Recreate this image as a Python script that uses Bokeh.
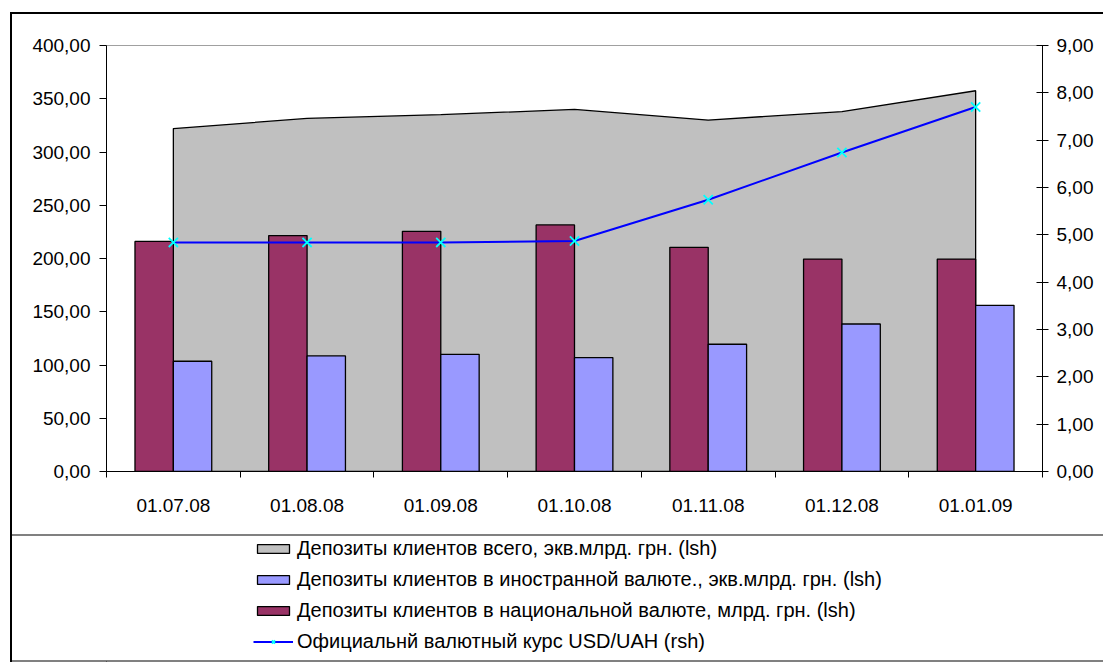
import numpy as np
from bokeh.plotting import figure
from bokeh.layouts import column
from bokeh.models import (Range1d, LinearAxis, FixedTicker, Legend, LegendItem,
                          ColumnDataSource)
from bokeh.embed import file_html
from bokeh.resources import INLINE

# ---- data ----
dates = ["01.07.08", "01.08.08", "01.09.08", "01.10.08", "01.11.08", "01.12.08", "01.01.09"]
total = [322.0, 331.5, 335.0, 340.0, 330.0, 338.0, 357.5]
foreign = [103.5, 108.5, 110.0, 107.0, 119.5, 138.5, 156.0]
national = [216.0, 221.5, 225.5, 231.5, 210.5, 199.5, 199.5]
rate = [4.84, 4.84, 4.84, 4.87, 5.74, 6.74, 7.70]
left_ticks = [0, 50, 100, 150, 200, 250, 300, 350, 400]
right_ticks = [0, 1, 2, 3, 4, 5, 6, 7, 8, 9]

labels = [
    "Депозиты клиентов всего, экв.млрд. грн. (lsh)",
    "Депозиты клиентов в иностранной валюте., экв.млрд. грн. (lsh)",
    "Депозиты клиентов в национальной валюте, млрд. грн. (lsh)",
    "Официальнй валютный курс USD/UAH (rsh)",
]

FONT = "Liberation Sans"
C_TOTAL, C_FOR, C_NAT, C_LINE, C_MARK = "#C0C0C0", "#9999FF", "#993366", "#0000FF", "#00FFFF"
n = len(dates)
centers = np.arange(n) + 0.5
bw = 0.287

OX, OY = 10, 12            # outer frame offset
W = 1103 - OX
H_MAIN = 534 - OY
H_LEG = 662 - 534
FL = 106 - OX              # frame left inside canvas
FR = W - (1042 - OX)       # frame right border

p = figure(width=W, height=H_MAIN, output_backend="svg", toolbar_location=None,
           x_range=Range1d(0, n), y_range=Range1d(0, 400),
           min_border_left=FL, min_border_right=FR,
           min_border_top=45 - OY, min_border_bottom=H_MAIN - (471 - OY),
           x_axis_type=None, y_axis_type=None)
p.extra_y_ranges = {"rate": Range1d(0, 9)}
p.xgrid.visible = False
p.ygrid.visible = False
p.outline_line_color = "#a0a0a0"
p.outline_line_width = 1
p.background_fill_color = "white"
p.border_fill_color = None
p.styles = {"box-shadow": "inset 2px 2px 0 0 black"}

# area (total)
area_x = list(centers) + [centers[-1], centers[0]]
area_y = list(total) + [0, 0]
p.patch(area_x, area_y, fill_color=C_TOTAL, line_color="black", line_width=1.3)

# bars
src = ColumnDataSource(dict(xn=centers - bw / 2, xf=centers + bw / 2,
                            national=national, foreign=foreign))
p.vbar(x="xn", top="national", width=bw, source=src,
       fill_color=C_NAT, line_color="black", line_width=1.3)
p.vbar(x="xf", top="foreign", width=bw, source=src,
       fill_color=C_FOR, line_color="black", line_width=1.3)

# rate line
p.line(centers, rate, y_range_name="rate", line_color=C_LINE, line_width=2)
p.scatter(centers, rate, y_range_name="rate", marker="x", size=13,
          line_color=C_MARK, line_width=1.8)


def fmt(v):
    return f"{v:.2f}".replace(".", ",")


def style_labels(ax):
    ax.major_label_text_font = FONT
    ax.major_label_text_font_size = "19px"
    ax.major_label_text_color = "black"
    ax.axis_line_color = "black"
    ax.major_tick_line_color = "black"


ly = LinearAxis(ticker=FixedTicker(ticks=left_ticks, minor_ticks=[]),
                major_label_overrides={t: fmt(t) for t in left_ticks})
style_labels(ly)
ly.major_tick_out = 7
ly.major_tick_in = 0
ly.major_label_standoff = 9
p.add_layout(ly, "left")

ry = LinearAxis(y_range_name="rate", ticker=FixedTicker(ticks=right_ticks, minor_ticks=[]),
                major_label_overrides={t: fmt(t) for t in right_ticks})
style_labels(ry)
ry.major_tick_out = 6
ry.major_tick_in = 6
ry.major_label_standoff = 8
p.add_layout(ry, "right")

xa = LinearAxis(ticker=FixedTicker(ticks=list(centers), minor_ticks=list(range(n + 1))),
                major_label_overrides={float(c): d for c, d in zip(centers, dates)})
style_labels(xa)
xa.major_tick_out = 0
xa.major_tick_in = 0
xa.minor_tick_out = 6
xa.minor_tick_in = 0
xa.minor_tick_line_color = "black"
xa.major_label_standoff = 21
p.add_layout(xa, "below")

# ---- legend panel (its frame is aligned with the main frame by the column) ----
q = figure(width=W, height=H_LEG, output_backend="svg", toolbar_location=None,
           x_range=Range1d(0, 1), y_range=Range1d(0, 1),
           min_border_left=FL, min_border_right=FR, min_border_top=0, min_border_bottom=0,
           x_axis_type=None, y_axis_type=None)
q.xgrid.visible = False
q.ygrid.visible = False
q.outline_line_color = None
q.background_fill_color = None
q.border_fill_color = None
q.styles = {"box-shadow": "inset 2px 0 0 0 black, inset 0 2px 0 0 #808080, inset 0 -2px 0 0 #808080"}

# legend-only renderers, placed outside the visible range of the legend panel
e = ColumnDataSource(dict(x=[-5.0, -6.0, -6.0], y=[-5.0, -5.0, -6.0]))
g_tot = q.patch("x", "y", source=e, fill_color=C_TOTAL, line_color="black", line_width=1.3)
g_for = q.vbar(x="x", top="y", width=0.1, source=e, fill_color=C_FOR, line_color="black", line_width=1.3)
g_nat = q.vbar(x="x", top="y", width=0.1, source=e, fill_color=C_NAT, line_color="black", line_width=1.3)
g_line = q.line("x", "y", source=e, line_color=C_LINE, line_width=2)
g_mark = q.scatter("x", "y", source=e, marker="x", size=12, line_color=C_MARK, line_width=1.8)

legend = Legend(items=[
    LegendItem(label=labels[0], renderers=[g_tot]),
    LegendItem(label=labels[1], renderers=[g_for]),
    LegendItem(label=labels[2], renderers=[g_nat]),
    LegendItem(label=labels[3], renderers=[g_line, g_mark]),
], location=(253 - 106, 9))
legend.orientation = "vertical"
legend.border_line_color = None
legend.background_fill_alpha = 0
legend.padding = 0
legend.margin = 0
legend.spacing = 8
legend.glyph_width = 40
legend.glyph_height = 11
legend.label_height = 20
legend.label_standoff = 4
legend.label_text_font = FONT
legend.label_text_font_size = "20px"
legend.label_text_color = "black"
q.add_layout(legend, "center")

layout = column(p, q, spacing=0, margin=(OY, 0, 0, OX))
open("out.html", "w").write(file_html(layout, INLINE))
